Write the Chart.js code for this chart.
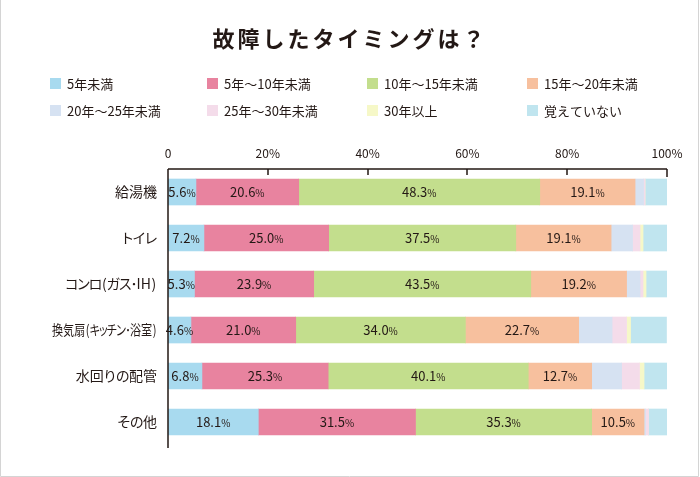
<!DOCTYPE html>
<html lang="ja">
<head>
<meta charset="utf-8">
<script src="https://cdn.jsdelivr.net/npm/chart.js@4"></script>
<style>
  html, body { margin: 0; padding: 0; background: #fff; }
  #wrap { width: 700px; height: 477px; }
</style>
</head>
<body>
<div id="wrap"><canvas id="chart" width="700" height="477"></canvas></div>
<script>
const FONT = '"Noto Sans CJK JP", "Noto Sans", sans-serif';
const INK = '#231815';

const categories = ['給湯機', 'トイレ', 'コンロ（ガス･IH）', '換気扇（キッチン･浴室）', '水回りの配管', 'その他'];
const seriesNames = ['5年未満', '5年～10年未満', '10年～15年未満', '15年～20年未満',
  '20年～25年未満', '25年～30年未満', '30年以上', '覚えていない'];
const seriesColors = ['#a8daef', '#e8839f', '#c3de8d', '#f7c09e', '#d6e2f2', '#f4dcea', '#f6f8c8', '#c0e5ef'];

const under5 = [5.6, 7.2, 5.3, 4.6, 6.8, 18.1];
const from5to10 = [20.6, 25.0, 23.9, 21.0, 25.3, 31.5];
const from10to15 = [48.3, 37.5, 43.5, 34.0, 40.1, 35.3];
const from15to20 = [19.1, 19.1, 19.2, 22.7, 12.7, 10.5];
const from20to25 = [1.7, 4.3, 2.7, 6.7, 6.0, 0.3];
const from25to30 = [0.3, 1.5, 0.6, 2.9, 3.6, 0.6];
const over30 = [0.0, 0.6, 0.6, 0.8, 0.9, 0.0];
const unknown = [4.4, 4.8, 4.2, 7.2, 4.6, 3.7];
const tickValues = [0, 20, 40, 60, 80, 100];

const allSeries = [under5, from5to10, from10to15, from15to20, from20to25, from25to30, over30, unknown];
const labelledSeries = 4;
const maxLabelWidth = 105;

// proportional-ish spacing for the category names (canvas has no palt)
function glyphs(ctx, text) {
  return Array.from(text).map(ch => {
    let draw = ch, k = 1;
    if (ch === '（') { draw = '('; k = 1.3; }
    else if (ch === '）') { draw = ')'; k = 1.3; }
    else if (ch === '･') { k = 0.75; }
    else if ('ッャュョ'.includes(ch)) { k = 0.68; }
    else if (/[\u30A0-\u30FF]/.test(ch)) { k = 0.85; }
    else if (/[\u3040-\u309F]/.test(ch)) { k = 0.9; }
    return { draw, w: ctx.measureText(draw).width * k };
  });
}

// title, legend, frame, category names and top axis drawn by hand
const decorations = {
  id: 'decorations',
  afterDraw(chart) {
    const ctx = chart.ctx;
    const area = chart.chartArea;
    const x = chart.scales.x;
    const y = chart.scales.y;
    ctx.save();

    // frame
    ctx.strokeStyle = '#d4d4d4';
    ctx.lineWidth = 1;
    ctx.beginPath();
    ctx.moveTo(0.5, 0);
    ctx.lineTo(0.5, 476.5);
    ctx.lineTo(698.5, 476.5);
    ctx.lineTo(698.5, 0);
    ctx.stroke();

    // title
    ctx.fillStyle = INK;
    ctx.font = 'bold 22px ' + FONT;
    ctx.textAlign = 'center';
    ctx.textBaseline = 'middle';
    ctx.letterSpacing = '3px';
    ctx.fillText('故障したタイミングは？', 350, 39);
    ctx.letterSpacing = '0px';

    // legend 4 x 2
    ctx.font = '13px ' + FONT;
    ctx.textAlign = 'left';
    const colX = [50, 207, 367, 527];
    const rowY = [84, 111];
    seriesNames.forEach((name, i) => {
      const bx = colX[i % 4];
      const by = rowY[Math.floor(i / 4)];
      ctx.fillStyle = seriesColors[i];
      ctx.fillRect(bx, by - 6, 11, 11);
      ctx.fillStyle = INK;
      ctx.fillText(name, bx + 17, by);
    });

    // category names, right aligned at the y axis, long ones condensed
    ctx.font = '14px ' + FONT;
    ctx.textAlign = 'center';
    ctx.textBaseline = 'middle';
    categories.forEach((name, i) => {
      const py = y.getPixelForValue(i);
      const gs = glyphs(ctx, name);
      const total = gs.reduce((s, g) => s + g.w, 0);
      const sx = Math.min(1, maxLabelWidth / total);
      ctx.save();
      ctx.translate(157, py);
      ctx.scale(sx, 1);
      let px = -total;
      gs.forEach(g => {
        ctx.fillText(g.draw, px + g.w / 2, 0);
        px += g.w;
      });
      ctx.restore();
    });

    // top axis line with inward ticks, y axis line
    ctx.strokeStyle = INK;
    ctx.lineWidth = 1.5;
    ctx.beginPath();
    ctx.moveTo(area.left, area.top);
    ctx.lineTo(area.right, area.top);
    ctx.moveTo(area.left, area.top);
    ctx.lineTo(area.left, area.bottom + 3);
    tickValues.forEach(v => {
      const px = Math.round(x.getPixelForValue(v));
      ctx.moveTo(px, area.top);
      ctx.lineTo(px, area.top + (v === 100 ? 8 : 6));
    });
    ctx.stroke();

    // value labels inside the first four segments
    for (let d = 0; d < labelledSeries; d++) {
      const meta = chart.getDatasetMeta(d);
      meta.data.forEach((bar, i) => {
        const num = allSeries[d][i].toFixed(1);
        const cx = (bar.x + bar.base) / 2;
        ctx.font = '13px ' + FONT;
        const w1 = ctx.measureText(num).width;
        ctx.font = '10px ' + FONT;
        const w2 = ctx.measureText('%').width;
        const start = cx - (w1 + w2) / 2;
        ctx.fillStyle = INK;
        ctx.textAlign = 'left';
        ctx.textBaseline = 'alphabetic';
        ctx.font = '13px ' + FONT;
        ctx.fillText(num, start, bar.y + 5);
        ctx.font = '10px ' + FONT;
        ctx.fillText('%', start + w1, bar.y + 5);
      });
    }
    ctx.restore();
  }
};

new Chart(document.getElementById('chart'), {
  type: 'bar',
  data: {
    labels: categories,
    datasets: allSeries.map((vals, i) => ({
      label: seriesNames[i],
      data: vals,
      backgroundColor: seriesColors[i],
      borderWidth: 0,
      barThickness: 26,
    })),
  },
  options: {
    indexAxis: 'y',
    responsive: false,
    animation: false,
    layout: { padding: { top: 139, right: 33, bottom: 32, left: 0 } },
    scales: {
      x: {
        position: 'top',
        stacked: true,
        min: 0,
        max: 100,
        afterBuildTicks: (scale) => { scale.ticks = tickValues.map(v => ({ value: v })); },
        afterFit: (scale) => { scale.height = 30; },
        grid: { display: false, drawTicks: false },
        border: { display: false },
        ticks: {
          padding: 8,
          color: INK,
          font: { family: FONT, size: 12 },
          callback: (v) => v === 0 ? '0' : v + '%',
        },
      },
      y: {
        stacked: true,
        afterFit: (scale) => { scale.width = 168; },
        grid: { display: false, drawTicks: false },
        border: { display: false },
        ticks: { display: false },
      },
    },
    plugins: {
      legend: { display: false },
      tooltip: { enabled: false },
    },
  },
  plugins: [decorations],
});
</script>
</body>
</html>
